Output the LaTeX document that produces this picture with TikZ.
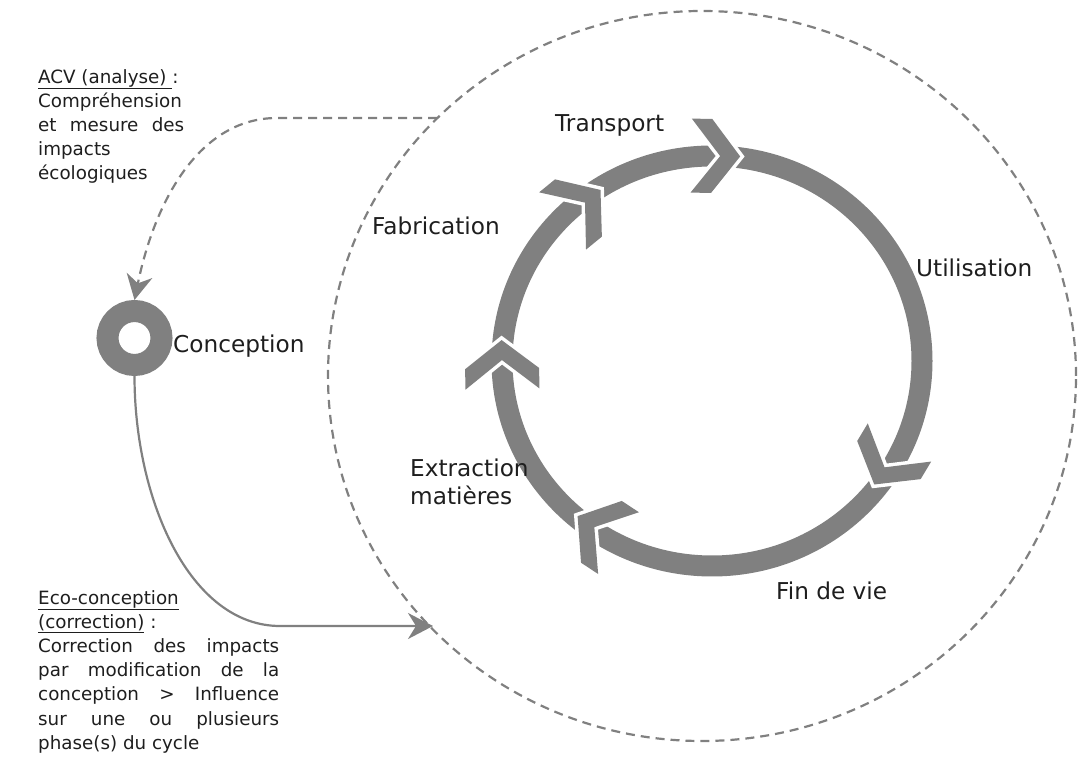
\documentclass[tikz,border=0pt]{standalone}
\usepackage{fontspec}
\setmainfont{DejaVu Sans}
\usetikzlibrary{arrows.meta}
\definecolor{ringgray}{HTML}{808080}
\definecolor{txt}{HTML}{1E1E1E}
\newcommand\mychev[2]{%
  \begin{scope}[shift={({712+(210+#2)*cos(#1)},{402+(205+#2)*sin(#1)})}, rotate={#1-90}]
    \draw[white, fill=white, line width=7pt] (24.5,0) -- (-4,37) -- (-24.5,37) -- (4.5,0) -- (-24.5,-37) -- (-4,-37) -- cycle;
    \fill[ringgray] (24.5,0) -- (-4,37) -- (-24.5,37) -- (4.5,0) -- (-24.5,-37) -- (-4,-37) -- cycle;
  \end{scope}}
\begin{document}
\begin{tikzpicture}[x=1pt,y=1pt,
  lbl/.style={font=\fontsize{23.2}{28}\selectfont, text=txt, inner sep=0pt},
  side/.style={font=\fontsize{18.3}{24.2}\selectfont, text=txt, inner sep=0pt, align=left},
  dashline/.style={draw=ringgray, line width=2.2pt, dash pattern=on 9pt off 6pt},
  tip/.style={-{Stealth[length=25pt,width=26pt,inset=8pt]}}
]
\useasboundingbox (0,0) rectangle (1082,763);
% large dashed circle
\draw[dashline] (702,387) ellipse [x radius=374, y radius=365];
% cycle ring
\draw[ringgray, line width=21pt] (712,402) ellipse [x radius=210, y radius=205];
\mychev{89}{0}
\mychev{129.3}{-4}
\mychev{181}{0}
\mychev{236.6}{-3}
\mychev{329}{-6}
% conception donut
\node[circle, draw=ringgray, line width=22pt, minimum size=54pt, inner sep=0pt] (concep) at (134.5,425) {};
\node[lbl, anchor=base west] (conceptxt) at (173,410) {Conception};
% labels
\node[lbl, anchor=base west] (transp) at (555,631.5) {Transport};
\node[lbl, anchor=base west] (fabr) at (372,528.5) {Fabrication};
\node[lbl, anchor=base west] (util) at (916,486.5) {Utilisation};
\node[lbl, anchor=base west] (fin) at (776,163.5) {Fin de vie};
\node[lbl, anchor=north west, align=left] (extr) at (410,304) {Extraction\\matières};
% side texts
\node[side, anchor=north west] (acv) at (38,694) {\underline{ACV (analyse)\ }:\\
  Compréhension\\
  \makebox[146pt][s]{et mesure des}\\
  impacts\\
  écologiques};
\node[side, anchor=north west] (eco) at (38,173) {\underline{Eco-conception}\\
  \underline{(correction)} :\\
  \makebox[241pt][s]{Correction des impacts}\\
  \makebox[241pt][s]{par modification de la}\\
  \makebox[241pt][s]{conception > Influence}\\
  \makebox[241pt][s]{sur une ou plusieurs}\\
  phase(s) du cycle};
% connectors
\coordinate (acvs) at (437,645);
\draw[dashline, tip] (acvs) -- (277,645) .. controls (200,645) and (155,563) .. (concep.north);
\coordinate (ecoe) at (433,137);
\draw[ringgray, line width=2.2pt, tip] (concep.south) .. controls (134.5,263) and (190,137) .. (280,137) -- (ecoe);
\end{tikzpicture}
\end{document}
